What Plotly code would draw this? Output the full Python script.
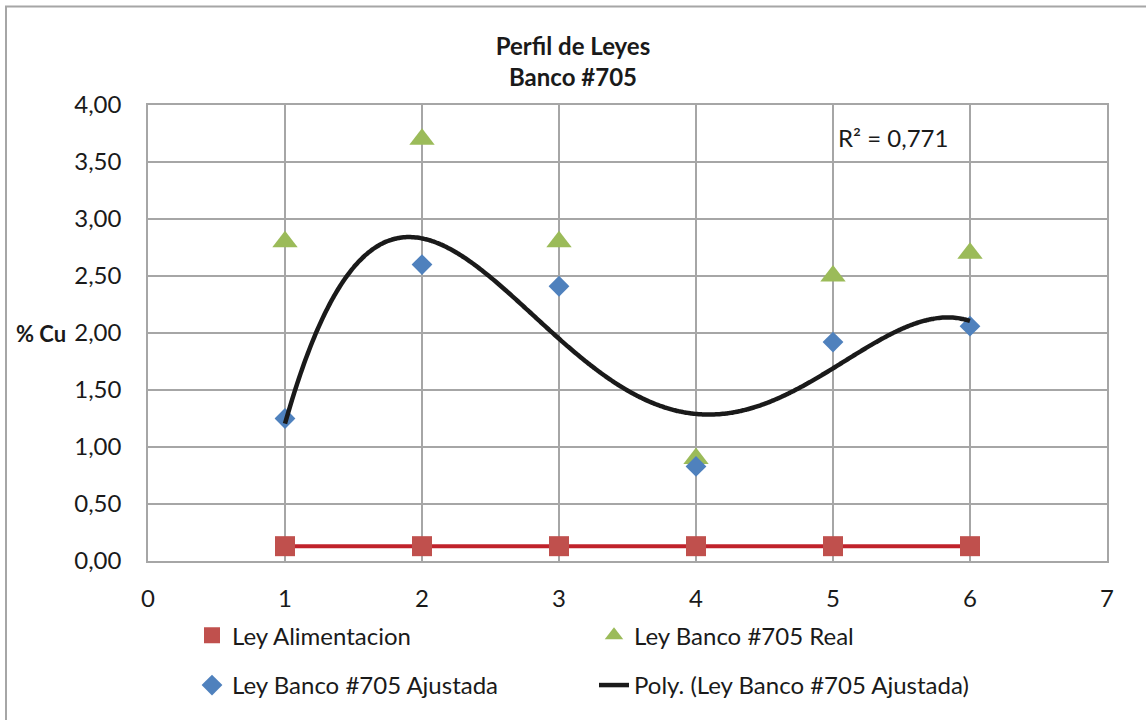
import numpy as np
import plotly.graph_objects as go

# Sample positions along the bench
posicion = [1, 2, 3, 4, 5, 6]

# Copper grades (% Cu)
ley_alimentacion = [0.13, 0.13, 0.13, 0.13, 0.13, 0.13]
ley_real = [2.80, 3.70, 2.80, 0.90, 2.50, 2.70]
ley_ajustada = [1.25, 2.60, 2.41, 0.83, 1.92, 2.06]

y_ticks = [0.0, 0.5, 1.0, 1.5, 2.0, 2.5, 3.0, 3.5, 4.0]
x_ticks = [0, 1, 2, 3, 4, 5, 6, 7]

FONT = "Lato"
GRID = "#A6A6A6"
TXT = "#1A1A1A"

# 4th-order polynomial trendline on the adjusted grades
coef = np.polyfit(posicion, ley_ajustada, 4)
x_fit = np.linspace(min(posicion), max(posicion), 400)
y_fit = np.polyval(coef, x_fit)

fig = go.Figure()

# feed grade reference line (no legend entry of its own)
fig.add_trace(go.Scatter(
    x=posicion, y=ley_alimentacion, mode="lines",
    line=dict(color="#C0222B", width=4),
    showlegend=False, hoverinfo="skip",
))

fig.add_trace(go.Scatter(
    x=posicion, y=ley_alimentacion, mode="markers",
    name="Ley Alimentacion",
    marker=dict(symbol="square", size=20, color="#C0504D"),
    legend="legend",
))
fig.add_trace(go.Scatter(
    x=posicion, y=ley_real, mode="markers",
    name="Ley Banco #705 Real",
    marker=dict(symbol="triangle-up", size=22, color="#9BBB59"),
    legend="legend",
))
fig.add_trace(go.Scatter(
    x=posicion, y=ley_ajustada, mode="markers",
    name="Ley Banco #705 Ajustada",
    marker=dict(symbol="diamond", size=16, color="#4F81BD"),
    legend="legend2",
))
fig.add_trace(go.Scatter(
    x=x_fit, y=y_fit, mode="lines",
    name="Poly. (Ley Banco #705 Ajustada)",
    line=dict(color=TXT, width=4.5, shape="spline"),
    legend="legend2",
))

legend_common = dict(
    orientation="h", xanchor="left", yanchor="middle",
    font=dict(family=FONT, size=24, color=TXT),
    bgcolor="rgba(0,0,0,0)", borderwidth=0,
    entrywidth=357, entrywidthmode="pixels",
)

fig.update_layout(
    width=1146, height=720,
    margin=dict(l=148, r=39, t=105, b=157),
    paper_bgcolor="white", plot_bgcolor="white",
    separators=",.",
    font=dict(family=FONT, size=24, color=TXT),
    title=dict(
        text="<b>Perfil de Leyes</b><br><b>Banco #705</b>",
        x=0.5, xref="container", xanchor="center",
        y=1 - 55 / 720, yref="container", yanchor="middle",
        font=dict(family=FONT, size=24, color=TXT),
    ),
    xaxis=dict(
        range=[0, 7], tickvals=x_ticks, showgrid=True,
        gridcolor=GRID, gridwidth=1.5, zeroline=False,
        showline=True, linecolor=GRID, linewidth=1.5, mirror=True,
        ticks="", ticklabelstandoff=15,
        tickfont=dict(family=FONT, size=24, color=TXT),
    ),
    yaxis=dict(
        range=[0, 4], tickvals=y_ticks, tickformat=".2f", showgrid=True,
        gridcolor=GRID, gridwidth=1.5, zeroline=False,
        showline=True, linecolor=GRID, linewidth=1.5, mirror=True,
        ticks="", ticklabelstandoff=20,
        tickfont=dict(family=FONT, size=24, color=TXT),
    ),
    legend=dict(x=(192 - 148) / 959, y=(563 - 638) / 458, **legend_common),
    legend2=dict(x=(192 - 148) / 959, y=(563 - 688) / 458, **legend_common),
    annotations=[
        dict(
            text="<b>% Cu</b>", xref="paper", yref="paper",
            x=(41 - 148) / 959, y=(563 - 335) / 458,
            xanchor="center", yanchor="middle", showarrow=False,
            font=dict(family=FONT, size=22, color=TXT),
        ),
        dict(
            text="R² = 0,771", xref="paper", yref="paper",
            x=(836 - 148) / 959, y=(563 - 138) / 458,
            xanchor="left", yanchor="middle", showarrow=False,
            font=dict(family=FONT, size=24, color=TXT),
        ),
    ],
    shapes=[
        dict(
            type="rect", xref="paper", yref="paper",
            x0=(6 - 148) / 959, x1=(1160 - 148) / 959,
            y0=(563 - 740) / 458, y1=(563 - 6) / 458,
            line=dict(color="#A6A6A6", width=2), fillcolor="rgba(0,0,0,0)",
            layer="below",
        ),
    ],
)

fig.write_html("out.html")
